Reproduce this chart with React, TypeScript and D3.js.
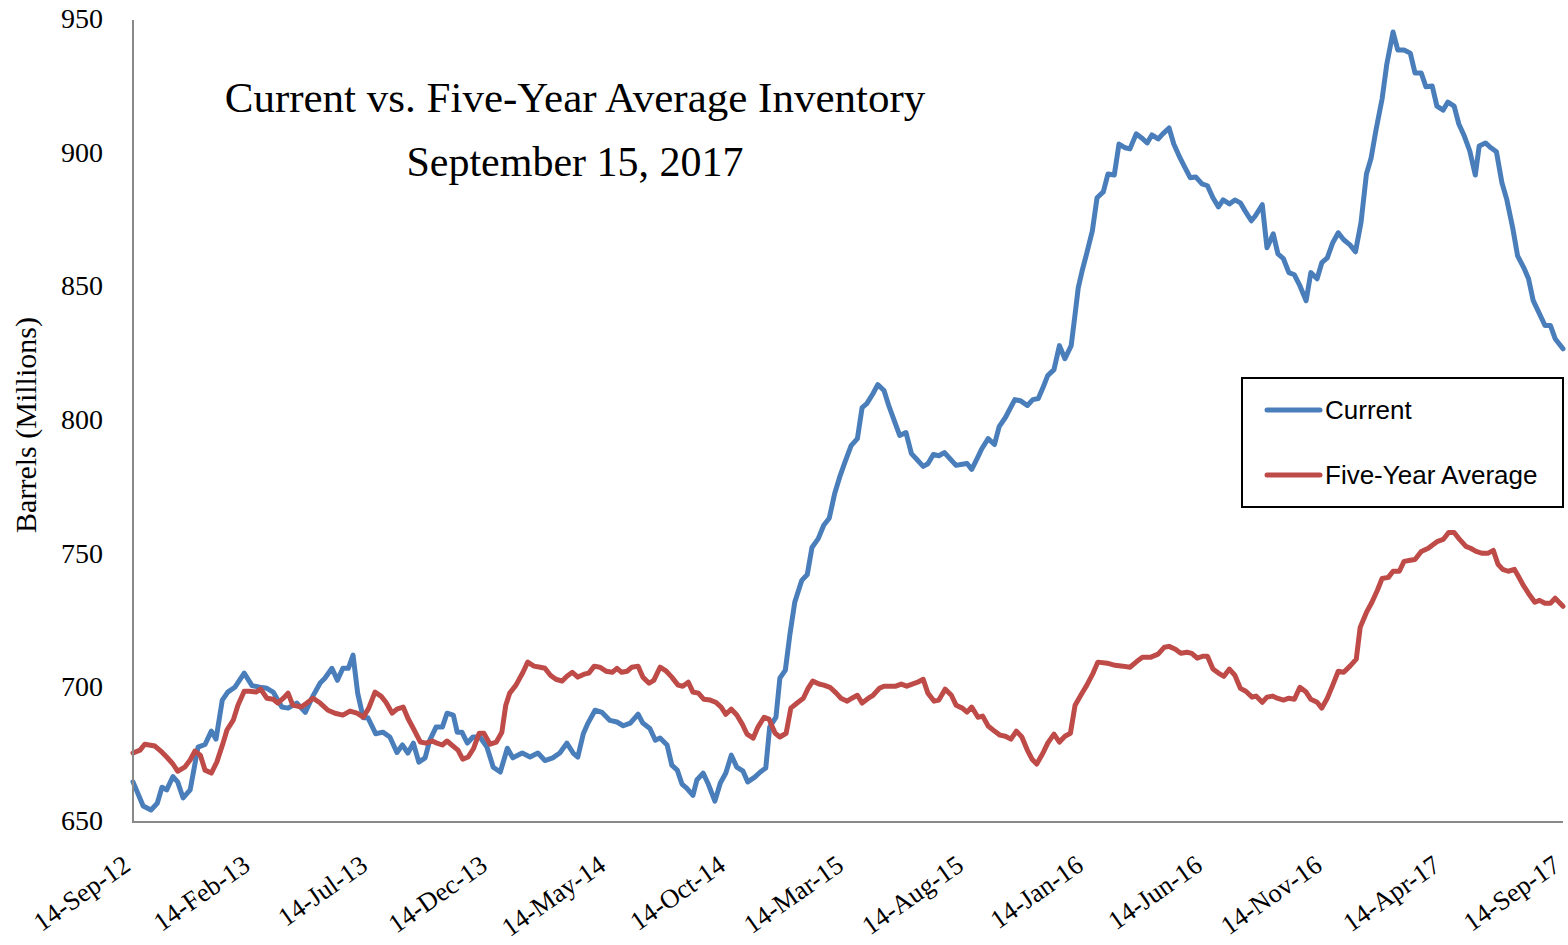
import React from 'react';
import * as d3 from 'd3';

// x-axis tick labels, every 5 months
const tickLabels = [
  '14-Sep-12', '14-Feb-13', '14-Jul-13', '14-Dec-13', '14-May-14', '14-Oct-14', '14-Mar-15',
  '14-Aug-15', '14-Jan-16', '14-Jun-16', '14-Nov-16', '14-Apr-17', '14-Sep-17',
];

const yTicks = [650, 700, 750, 800, 850, 900, 950];

// [days since 14-Sep-12, barrels (millions)]
const current: [number, number][] = [
  [0, 665], [13, 656], [23, 654.5], [31, 657], [37, 663], [43, 662], [51, 667], [57, 665], [64, 659],
  [73, 662], [83, 678], [92, 679], [100, 684], [106, 681], [114, 695.6], [121, 698.6], [130, 700.4],
  [142, 705.7], [152, 701], [162, 700.4], [171, 700], [179, 698.6], [190, 693], [198, 692.6],
  [209, 694.5], [220, 691], [229, 696.7], [239, 702], [245, 703.8], [254, 707.5], [261, 703],
  [268, 707.5], [275, 707.5], [281, 712.4], [287, 698], [294, 689], [300, 689], [310, 683],
  [319, 683.6], [328, 681.8], [337, 676], [344, 678.8], [351, 675.8], [358, 679.5], [365, 672.4],
  [373, 674], [379, 680.6], [387, 685.5], [395, 685.5], [401, 690.7], [409, 690], [414, 683.6],
  [420, 683.6], [427, 679.5], [434, 681.8], [443, 681.8], [452, 678], [460, 670.5], [469, 668.7],
  [478, 677.6], [485, 674], [497, 675.8], [507, 674.3], [517, 675.8], [526, 673], [536, 674],
  [545, 675.8], [554, 679.5], [562, 675.8], [568, 674.3], [575, 683], [581, 687], [590, 691.8],
  [599, 691], [609, 688], [618, 687.4], [626, 686], [635, 687], [645, 690.3], [651, 687], [660, 685],
  [667, 680.6], [673, 681.4], [682, 678.8], [688, 671.3], [695, 669.4], [701, 664.2], [707, 662.7],
  [715, 660], [720, 665.7], [728, 668.3], [734, 664.6], [743, 657.8], [750, 664.6], [757, 668.3],
  [764, 675], [771, 670.5], [779, 669], [785, 665], [794, 666.8], [801, 668.7], [808, 670.2],
  [813, 685.5], [821, 689.2], [826, 703.8], [833, 706.8], [839, 720.6], [845, 732.2], [854, 740.4],
  [861, 742.6], [867, 752.7], [875, 756], [882, 761], [889, 763.6], [896, 772.9], [903, 779.6],
  [909, 784.5], [917, 790.8], [925, 793.4], [931, 805], [937, 806.5], [945, 810.3], [951, 813.6],
  [959, 811.4], [965, 805.8], [973, 799.4], [979, 794.6], [987, 795.7], [994, 787.8], [1001, 785.6],
  [1009, 783], [1015, 784], [1022, 787.5], [1029, 787], [1036, 788.2], [1043, 786], [1051, 783.4],
  [1057, 783.7], [1065, 784.1], [1071, 781.9], [1078, 786], [1084, 789.7], [1092, 793.4],
  [1100, 791.2], [1106, 797.9], [1114, 801.3], [1126, 808], [1133, 807.6], [1142, 805.8], [1149, 808],
  [1156, 808.4], [1162, 812.5], [1168, 817], [1176, 819.2], [1183, 828.2], [1190, 823.3],
  [1198, 828.2], [1203, 840], [1207, 849.8], [1212, 856.2], [1218, 862.9], [1225, 871.1],
  [1231, 883.5], [1239, 885.7], [1245, 892.4], [1253, 892], [1259, 903.6], [1267, 902.2],
  [1273, 901.8], [1281, 907.4], [1288, 905.9], [1295, 904], [1301, 907], [1309, 905.5], [1315, 907.4],
  [1323, 909.6], [1329, 903.6], [1337, 898.4], [1343, 895], [1350, 891], [1357, 891.3], [1365, 888.7],
  [1372, 888], [1379, 883.5], [1386, 880.1], [1392, 882.7], [1400, 881.2], [1407, 882.7],
  [1414, 881.6], [1420, 878.6], [1428, 874.9], [1433, 876.7], [1442, 880.9], [1448, 864.8],
  [1456, 870], [1462, 862.5], [1469, 860.7], [1476, 855.5], [1483, 854.7], [1490, 850.6], [1498, 845],
  [1504, 855.5], [1512, 853.2], [1518, 859.2], [1525, 861], [1532, 866.7], [1539, 870.4],
  [1546, 867.8], [1554, 865.9], [1561, 863.3], [1568, 874.1], [1575, 892.4], [1581, 898.4],
  [1587, 908.5], [1595, 920.5], [1601, 933.5], [1609, 945.5], [1615, 938.8], [1623, 938.8],
  [1631, 937.6], [1637, 930.2], [1645, 930.2], [1651, 925], [1659, 925.3], [1665, 917.8],
  [1673, 916.3], [1679, 919.3], [1687, 917.8], [1693, 911.1], [1700, 906.6], [1707, 901], [1714, 892],
  [1719, 902.9], [1727, 904], [1734, 902.2], [1741, 900.7], [1748, 889.1], [1754, 883.1],
  [1762, 871.9], [1768, 861.8], [1776, 857.3], [1782, 853.2], [1788, 845], [1796, 840.1],
  [1803, 835.7], [1810, 835.7], [1816, 830.8], [1826, 827],
];

const fiveYearAverage: [number, number][] = [
  [0, 675.8], [9, 676.9], [15, 679.1], [28, 678.4], [37, 676.1], [43, 674.3], [51, 671.7], [57, 669],
  [66, 670.5], [73, 673.2], [79, 676.5], [86, 675], [92, 669.4], [100, 668.3], [107, 672.4],
  [115, 679.5], [120, 684.4], [128, 688.1], [134, 693.7], [142, 698.9], [149, 698.9], [157, 698.6],
  [163, 699.7], [171, 696.3], [179, 695.9], [185, 694.5], [192, 696.3], [198, 698.2], [204, 693.7],
  [215, 693], [222, 694.5], [230, 696.3], [239, 694.5], [249, 691.8], [258, 690.7], [268, 690],
  [277, 691.5], [286, 690.7], [294, 689.2], [301, 692.6], [309, 698.6], [317, 697], [323, 694.8],
  [331, 690.7], [337, 692.2], [345, 693], [351, 688.8], [359, 684.4], [367, 679.9], [374, 679.5],
  [382, 680.3], [388, 679.5], [395, 678.8], [401, 680.3], [407, 678.8], [415, 676.9], [421, 673.5],
  [428, 674.3], [435, 677.6], [442, 683.2], [448, 683.2], [456, 679.1], [464, 679.9], [471, 683.6],
  [476, 693.7], [481, 698.2], [489, 701.2], [498, 706], [504, 709.8], [512, 708.3], [520, 707.9],
  [526, 707.5], [533, 704.9], [540, 703.4], [548, 702.7], [554, 704.5], [561, 706], [568, 704.2],
  [576, 705.3], [582, 705.7], [589, 708.3], [596, 707.9], [604, 706.4], [612, 706], [618, 707.5],
  [624, 706], [631, 706.4], [637, 707.9], [645, 708.3], [651, 704.2], [659, 701.9], [665, 703],
  [673, 707.9], [681, 706.4], [688, 704.2], [696, 701.2], [702, 700.8], [709, 702.3], [715, 698.6],
  [722, 698.2], [729, 695.9], [737, 695.6], [744, 694.8], [751, 693], [757, 690.3], [764, 692.2],
  [771, 690], [778, 686.6], [784, 682.9], [792, 681.4], [798, 685.5], [806, 689.2], [812, 688.5],
  [820, 683.2], [826, 681.8], [834, 683.2], [840, 692.6], [848, 694.5], [856, 696.3], [862, 700],
  [868, 702.7], [876, 701.6], [882, 701.2], [890, 700.4], [898, 698.2], [904, 696.3], [912, 695.2],
  [918, 696.3], [925, 697.4], [931, 694.5], [939, 696.3], [945, 697.4], [953, 700], [959, 700.8],
  [967, 700.8], [974, 700.8], [981, 701.6], [988, 700.8], [995, 701.6], [1002, 702.3], [1009, 703.4],
  [1015, 698.2], [1023, 695.2], [1029, 695.6], [1037, 699.7], [1045, 697.4], [1051, 693.7],
  [1059, 692.6], [1065, 691.1], [1071, 693], [1079, 689.2], [1085, 689.6], [1092, 685.9], [1100, 684],
  [1107, 682.5], [1114, 682.1], [1121, 681], [1128, 684], [1135, 681.8], [1142, 676.9], [1148, 673.5],
  [1154, 671.7], [1162, 675.8], [1168, 679.5], [1176, 682.9], [1183, 679.9], [1190, 682.1],
  [1197, 683.2], [1203, 693.7], [1211, 697.8], [1218, 701.2], [1226, 705.7], [1232, 709.8],
  [1244, 709.4], [1254, 708.6], [1264, 708.3], [1273, 707.9], [1282, 710.1], [1289, 711.6],
  [1299, 711.6], [1309, 712.8], [1317, 715.4], [1323, 715.7], [1331, 714.6], [1338, 713.1],
  [1346, 713.5], [1352, 713.1], [1359, 711.3], [1366, 712], [1372, 712], [1379, 707.2], [1386, 705.7],
  [1393, 704.5], [1400, 707.2], [1407, 704.9], [1414, 700], [1421, 698.9], [1429, 696.7],
  [1434, 697.1], [1442, 694.8], [1448, 696.7], [1455, 697.1], [1461, 696.3], [1469, 695.6],
  [1476, 696.3], [1483, 695.9], [1490, 700.4], [1498, 698.6], [1504, 695.9], [1512, 694.8],
  [1518, 692.6], [1525, 696.3], [1532, 701.2], [1539, 706.4], [1546, 706], [1554, 708.3],
  [1562, 710.9], [1567, 722.8], [1575, 728.4], [1582, 732.2], [1589, 736.7], [1595, 741.1],
  [1603, 741.5], [1609, 743.8], [1617, 743.8], [1623, 747.5], [1631, 747.9], [1637, 748.2],
  [1645, 751.2], [1654, 752.4], [1659, 753.5], [1666, 755], [1673, 755.7], [1680, 758.3],
  [1687, 758.3], [1694, 755.7], [1702, 753.1], [1708, 752.4], [1715, 751.2], [1723, 750.5],
  [1730, 750.5], [1737, 751.6], [1743, 746.4], [1749, 744.5], [1756, 743.8], [1764, 744.5],
  [1769, 741.9], [1776, 738.2], [1782, 735.5], [1790, 732.2], [1796, 732.9], [1803, 731.8],
  [1810, 731.8], [1816, 733.7], [1826, 730.7],
];

const series = [
  { name: 'Current', color: '#4a7ebb', data: current },
  { name: 'Five-Year Average', color: '#be4b48', data: fiveYearAverage },
];

const dim = { width: 1568, height: 945, left: 133, right: 1563, top: 20, bottom: 822 };
const serif = '"Liberation Serif", "Times New Roman", serif';
const sans = '"Liberation Sans", Arial, sans-serif';

const parseTick = d3.timeParse('%d-%b-%y');
const tickDates = tickLabels.map((t) => parseTick(t) as Date);
const start = tickDates[0];

const App = () => {
  const x = d3
    .scaleTime()
    .domain([start, tickDates[tickDates.length - 1]])
    .range([dim.left, dim.right]);
  const y = d3.scaleLinear().domain([650, 950]).range([dim.bottom, dim.top]);

  const line = d3
    .line<[number, number]>()
    .x((d) => x(d3.timeDay.offset(start, d[0])))
    .y((d) => y(d[1]));

  const axisColor = '#898989';

  return (
    <div style={{ position: 'absolute', left: 0, top: 0 }}>
      <svg width={dim.width} height={dim.height} style={{ display: 'block', background: '#fff' }}>
        {/* y tick labels */}
        {yTicks.map((t) => (
          <text key={t} x={103} y={y(t) + 8} textAnchor="end" fontFamily={serif} fontSize={28} fill="#000">
            {t}
          </text>
        ))}
        <text
          transform="translate(36, 425) rotate(-90)"
          textAnchor="middle"
          fontFamily={serif}
          fontSize={30}
          fill="#000"
        >
          Barrels (Millions)
        </text>

        {/* x tick labels */}
        {tickDates.map((d, i) => (
          <text
            key={tickLabels[i]}
            transform={`translate(${x(d) - 1}, 869) rotate(-35)`}
            textAnchor="end"
            fontFamily={serif}
            fontSize={26.5}
            fill="#000"
          >
            {tickLabels[i]}
          </text>
        ))}

        {/* series */}
        {series.map((s) => (
          <path
            key={s.name}
            d={line(s.data) || ''}
            fill="none"
            stroke={s.color}
            strokeWidth={5}
            strokeLinejoin="round"
            strokeLinecap="round"
          />
        ))}

        {/* axes */}
        <line x1={dim.left} x2={dim.left} y1={y(950)} y2={y(650) + 1} stroke={axisColor} strokeWidth={2} />
        <line x1={dim.left} x2={dim.right} y1={y(650)} y2={y(650)} stroke={axisColor} strokeWidth={2} />

        {/* title */}
        <text x={575} y={112} textAnchor="middle" fontFamily={serif} fontSize={43} fill="#000">
          Current vs. Five-Year Average Inventory
        </text>
        <text x={575} y={176} textAnchor="middle" fontFamily={serif} fontSize={42} fill="#000">
          September 15, 2017
        </text>

        {/* legend */}
        <rect x={1242} y={378} width={321} height={129} fill="#fff" stroke="#000" strokeWidth={2} />
        {series.map((s, i) => (
          <g key={s.name} transform={`translate(0, ${410 + i * 65})`}>
            <line x1={1267} x2={1320} y1={0} y2={0} stroke={s.color} strokeWidth={5} strokeLinecap="round" />
            <text x={1325} y={9} fontFamily={sans} fontSize={26} fill="#000">
              {s.name}
            </text>
          </g>
        ))}
      </svg>
    </div>
  );
};

export default App;
